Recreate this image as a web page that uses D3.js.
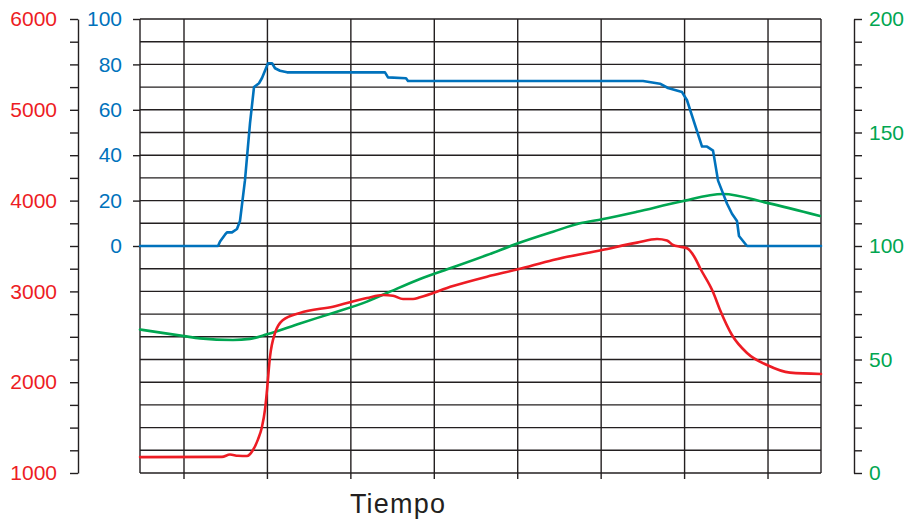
<!DOCTYPE html>
<html>
<head>
<meta charset="utf-8">
<script src="https://cdn.jsdelivr.net/npm/d3@7"></script>
<style>
  html, body { margin: 0; padding: 0; background: #fff; }
  svg { display: block; font-family: "Liberation Sans", Arial, sans-serif; }
</style>
</head>
<body>
<svg id="chart" width="907" height="520"></svg>
<script>
// ---- Data (time in grid units; vertical gridlines at 1..8) ----
const xTicks = [1, 2, 3, 4, 5, 6, 7, 8];
const xLabel = "Tiempo";

const redTicks = [1000, 2000, 3000, 4000, 5000, 6000];
const blueTicks = [0, 20, 40, 60, 80, 100];
const greenTicks = [0, 50, 100, 150, 200];

const blueT = [0.473, 1.408, 1.432, 1.491, 1.515, 1.575, 1.635, 1.671, 1.731, 1.791, 1.839, 1.899, 1.935, 2.007, 2.055, 2.091, 2.151, 2.235, 3.409, 3.445, 3.661, 3.685, 6.502, 6.705, 6.801, 6.969, 7.029, 7.209, 7.269, 7.341, 7.401, 7.509, 7.568, 7.628, 7.652, 7.748, 8.635];
const blueV = [0, 0, 2, 5, 6, 6, 7.5, 11, 29, 54, 70, 71.7, 74, 80.5, 80.5, 78.3, 77.2, 76.5, 76.5, 74.3, 73.9, 72.7, 72.7, 71.5, 69.6, 67.8, 64.2, 43.8, 43.8, 42, 28.8, 18.6, 14.2, 11, 4.4, 0, 0];

const redT = [0.473, 1.455, 1.551, 1.647, 1.755, 1.827, 1.887, 1.935, 1.971, 1.995, 2.031, 2.091, 2.187, 2.390, 2.786, 3.193, 3.385, 3.505, 3.625, 3.745, 3.829, 4.224, 4.632, 5.003, 5.423, 6.010, 6.430, 6.670, 6.789, 6.861, 6.945, 7.029, 7.125, 7.185, 7.341, 7.425, 7.568, 7.748, 7.988, 8.264, 8.635];
const redV = [1175, 1178, 1203, 1190, 1187, 1253, 1370, 1510, 1700, 1914, 2281, 2542, 2685, 2762, 2832, 2927, 2960, 2953, 2916, 2916, 2935, 3059, 3162, 3243, 3346, 3456, 3537, 3577, 3560, 3511, 3492, 3475, 3368, 3258, 2993, 2795, 2520, 2322, 2189, 2105, 2090];

const greenT = [0.473, 1.0, 1.192, 1.587, 1.791, 1.995, 2.390, 2.786, 3.193, 3.433, 3.829, 4.224, 4.632, 5.003, 5.423, 5.746, 6.010, 6.430, 6.945, 7.461, 7.988, 8.623];
const greenV = [63.2, 60.3, 59.3, 58.6, 59.1, 61.1, 65.9, 70.5, 75.5, 79.3, 85.5, 90.6, 96, 101.2, 106.3, 110, 111.8, 115.1, 119.5, 122.9, 119, 113.2];

// ---- Layout ----
const RED = "#ed1c24", BLUE = "#0072bc", GREEN = "#00a651", GRID = "#231f20";
const pLeft = 140, pRight = 821, pTop = 19, pBottom = 473;

const svg = d3.select("#chart");

const x = d3.scaleLinear().domain([0.4726, 8.635]).range([pLeft, pRight]);
const yRed = d3.scaleLinear().domain([1000, 6000]).range([pBottom, pTop]);
const yBlue = d3.scaleLinear().domain([0, 100]).range([246, pTop]);
const yGreen = d3.scaleLinear().domain([0, 200]).range([pBottom, pTop]);

// Horizontal grid
const gridVals = d3.range(1000, 6001, 250);
svg.append("g").selectAll("line").data(gridVals).join("line")
  .attr("x1", pLeft).attr("x2", pRight)
  .attr("y1", d => yRed(d)).attr("y2", d => yRed(d))
  .attr("stroke", GRID).attr("stroke-width", 1.4);

// Vertical grid
svg.append("g").selectAll("line").data(xTicks).join("line")
  .attr("x1", d => x(d)).attr("x2", d => x(d))
  .attr("y1", pTop).attr("y2", pBottom + 6)
  .attr("stroke", GRID).attr("stroke-width", 1.4);

// Frame verticals
svg.append("g").selectAll("line").data([pLeft, pRight]).join("line")
  .attr("x1", d => d).attr("x2", d => d)
  .attr("y1", pTop).attr("y2", pBottom)
  .attr("stroke", GRID).attr("stroke-width", 1.4);

function styleAxis(g, color) {
  g.selectAll(".domain").attr("stroke", GRID).attr("stroke-width", 1.4);
  g.selectAll(".tick line").attr("stroke", GRID).attr("stroke-width", 1.4);
  g.selectAll(".tick text").attr("fill", color)
    .attr("font-size", 21).attr("font-family", "Liberation Sans, Arial, sans-serif");
}

// Red axis (left outer)
const redAxis = d3.axisLeft(yRed).tickValues(gridVals).tickSize(8).tickSizeOuter(0).tickPadding(13)
  .tickFormat(d => redTicks.includes(d) ? String(d) : "");
svg.append("g").attr("transform", "translate(78,0)").call(redAxis).call(g => styleAxis(g, RED));

// Blue axis (left inner)
const blueAxis = d3.axisLeft(yBlue).tickValues(blueTicks).tickSize(7).tickSizeOuter(0).tickPadding(11)
  .tickFormat(d => String(d));
svg.append("g").attr("transform", `translate(${pLeft},0)`).call(blueAxis)
  .call(g => g.select(".domain").remove()).call(g => styleAxis(g, BLUE));

// Green axis (right)
const greenAxis = d3.axisRight(yGreen).tickValues(d3.range(0, 201, 10)).tickSize(8).tickSizeOuter(0).tickPadding(7)
  .tickFormat(d => greenTicks.includes(d) ? String(d) : "");
svg.append("g").attr("transform", "translate(854,0)").call(greenAxis).call(g => styleAxis(g, GREEN));

// Lines
function drawLine(ts, vs, yScale, color, curve) {
  const data = ts.map((t, i) => [t, vs[i]]);
  svg.append("path").datum(data)
    .attr("fill", "none").attr("stroke", color).attr("stroke-width", 2.6)
    .attr("stroke-linejoin", "round").attr("stroke-linecap", "round")
    .attr("d", d3.line().x(d => x(d[0])).y(d => yScale(d[1])).curve(curve));
}
drawLine(greenT, greenV, yGreen, GREEN, d3.curveMonotoneX);
drawLine(redT, redV, yRed, RED, d3.curveMonotoneX);
drawLine(blueT, blueV, yBlue, BLUE, d3.curveLinear);

// X label
svg.append("text").attr("x", 398).attr("y", 513).attr("text-anchor", "middle")
  .attr("font-size", 27).attr("letter-spacing", "1.2px").attr("fill", "#231f20").text(xLabel);
</script>
</body>
</html>
